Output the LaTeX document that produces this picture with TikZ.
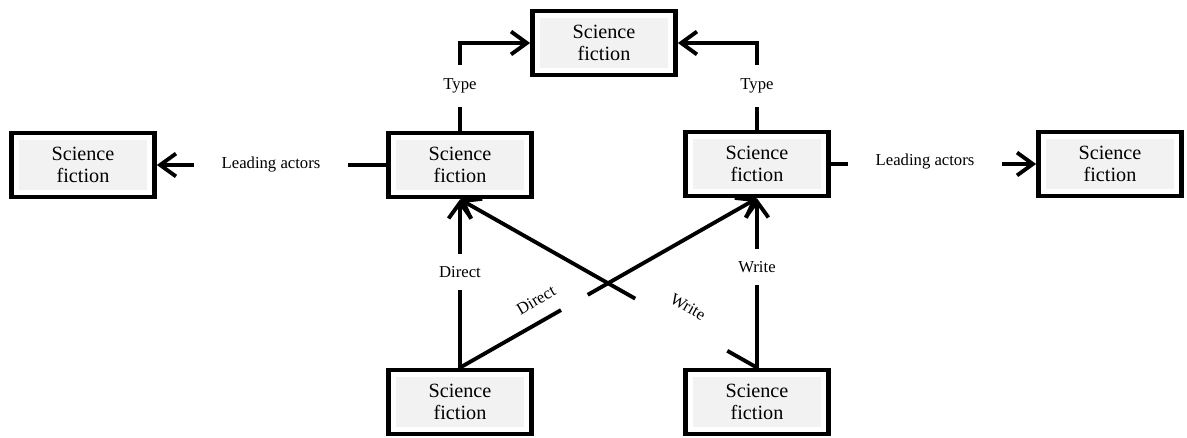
\documentclass[tikz,border=0pt]{standalone}
\usepackage{fontspec}
\setmainfont{Liberation Serif}
\usetikzlibrary{arrows.meta,calc}
\definecolor{boxgray}{HTML}{F2F2F2}
\begin{document}
\begin{tikzpicture}[x=0.02cm,y=-0.02cm,
  box/.style={draw, line width=2.7pt, fill=white, minimum width=2.86cm, minimum height=1.28cm,
    align=center, inner sep=0pt, font=\fontsize{11.5}{12.5}\selectfont,
    path picture={\fill[boxgray] ([shift={(4pt,4pt)}]path picture bounding box.south west)
      rectangle ([shift={(-4pt,-4pt)}]path picture bounding box.north east);}},
  conn/.style={line width=2.2pt},
  arr/.style={conn, -{Straight Barb[length=9pt,width=13pt]}},
  lbl/.style={font=\fontsize{9.5}{11}\selectfont, inner sep=1pt},
  gap/.style={lbl, fill=white}]
\useasboundingbox (0,0) rectangle (1187,438);
% boxes
\node[box] (T)  at (604,43)  {Science\\fiction};
\node[box] (L)  at (83,165)  {Science\\fiction};
\node[box] (ML) at (460,165) {Science\\fiction};
\node[box] (MR) at (757,164) {Science\\fiction};
\node[box] (R)  at (1110,164) {Science\\fiction};
\node[box] (BL) at (460,402) {Science\\fiction};
\node[box] (BR) at (757,402) {Science\\fiction};
% Type connectors
\draw[arr] (ML.north) -- (ML.north |- T.west) -- (T.west);
\draw[arr] (MR.north) -- (MR.north |- T.east) -- (T.east);
\node[gap, inner ysep=8pt] (ty1) at (460,86) {Type};
\node[gap, inner ysep=8pt] (ty2) at (757,86) {Type};
% Leading actors
\draw[arr] (ML.west) -- (L.east);
\draw[arr] (MR.east) -- (R.west);
\node[gap, inner xsep=16pt] (la1) at (271,165) {Leading actors};
\node[gap, inner xsep=16pt] (la2) at (925,162) {Leading actors};
% Direct / Write verticals
\draw[arr] (BL.north) -- (ML.south);
\draw[arr] (BR.north) -- (MR.south);
\node[gap, inner ysep=7pt] (d1) at (460,272) {Direct};
\node[gap, inner ysep=7pt] (w1) at (757,267) {Write};
% Diagonals
\draw[conn] (BL.north) -- ($(BL.north)!0.34!(MR.south)$);
\draw[arr] ($(BL.north)!0.43!(MR.south)$) -- (MR.south);
\draw[conn] (BR.north) -- ($(BR.north)!0.1!(ML.south)$);
\draw[arr] ($(BR.north)!0.41!(ML.south)$) -- (ML.south);
\node[lbl, rotate=30] (d2) at (536,300) {Direct};
\node[lbl, rotate=-30] (w2) at (688,307) {Write};
\end{tikzpicture}
\end{document}
